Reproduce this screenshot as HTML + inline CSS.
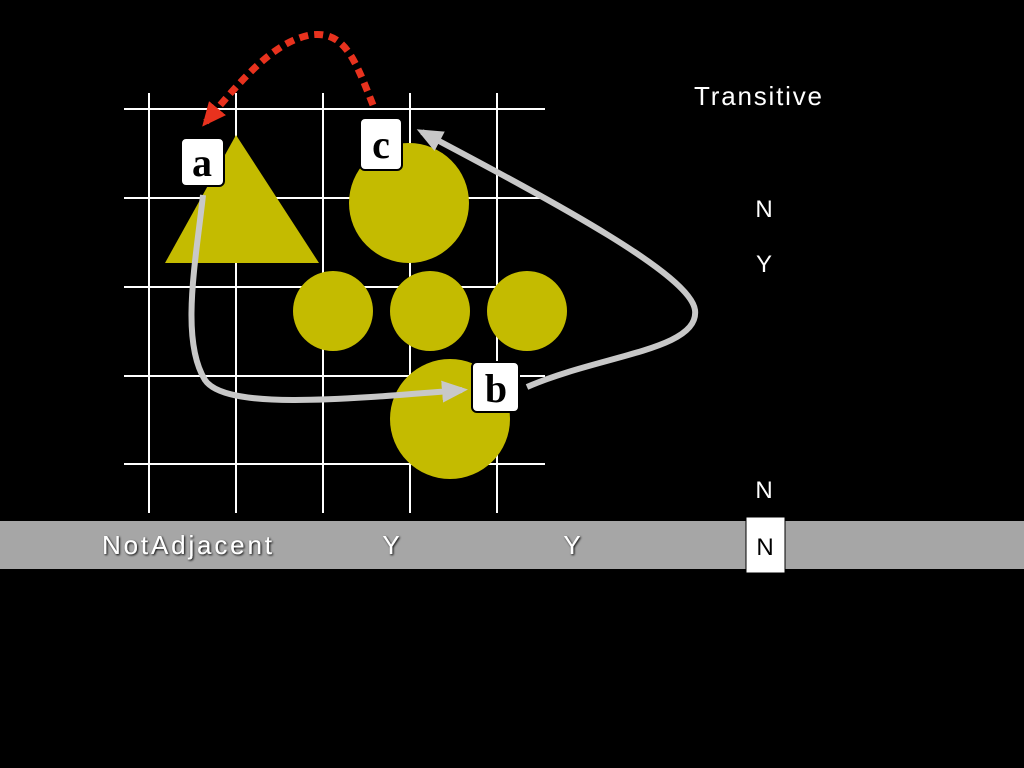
<!DOCTYPE html>
<html><head><meta charset="utf-8"><style>
html,body{margin:0;padding:0;background:#000;}
svg{display:block;}
.sans{font-family:"Liberation Sans",sans-serif;}
.serif{font-family:"Liberation Serif",serif;font-weight:bold;}
</style></head><body>
<svg width="1024" height="768" viewBox="0 0 1024 768">
<defs>
<marker id="ag" markerUnits="userSpaceOnUse" markerWidth="26" markerHeight="22" refX="20" refY="11" orient="auto"><path d="M0,0 L26,11 L0,22 z" fill="#c8c8c8"/></marker>
<marker id="ar" markerUnits="userSpaceOnUse" markerWidth="24" markerHeight="22" refX="18" refY="11" orient="auto"><path d="M0,0 L24,11 L0,22 z" fill="#e8321e"/></marker>
<filter id="sh"><feDropShadow dx="1" dy="1" stdDeviation="1" flood-color="#000"/></filter>
</defs>
<rect width="1024" height="768" fill="#000"/>
<g id="grid" stroke="#fff" stroke-width="2"></g>
<g fill="#c4bb00">
<polygon points="236,135 165,263 319,263"/>
<circle cx="409" cy="203" r="60"/>
<circle cx="333" cy="311" r="40"/>
<circle cx="430" cy="311" r="40"/>
<circle cx="527" cy="311" r="40"/>
<circle cx="450" cy="419" r="60"/>
</g>
<path d="M203,195 C196,260 180,340 205,380 C225,410 340,400 462,390" fill="none" stroke="#c8c8c8" stroke-width="6" marker-end="url(#ag)"/>
<path d="M527,387 C600,355 700,350 695,310 C690,275 560,205 422,132" fill="none" stroke="#c8c8c8" stroke-width="6" marker-end="url(#ag)"/>
<path d="M373,105 C355,60 345,30 310,35 C275,42 245,75 206,122" fill="none" stroke="#e8321e" stroke-width="7" stroke-dasharray="9,6" marker-end="url(#ar)"/>
<g><rect x="181" y="138" width="43" height="48" rx="5" fill="#fff" stroke="#000" stroke-width="2"/><text class="serif" x="202" y="176" font-size="40" text-anchor="middle">a</text></g>
<g><rect x="360" y="118" width="42" height="52" rx="5" fill="#fff" stroke="#000" stroke-width="2"/><text class="serif" x="381" y="158" font-size="40" text-anchor="middle">c</text></g>
<g><rect x="472" y="362" width="47" height="50" rx="5" fill="#fff" stroke="#000" stroke-width="2"/><text class="serif" x="496" y="402" font-size="40" text-anchor="middle">b</text></g>
<text class="sans" x="758" y="105" fill="#fff" font-size="26" textLength="128" text-anchor="middle">Transitive</text>
<text class="sans" x="764" y="217" fill="#fff" font-size="24" text-anchor="middle">N</text>
<text class="sans" x="764" y="272" fill="#fff" font-size="24" text-anchor="middle">Y</text>
<text class="sans" x="764" y="498" fill="#fff" font-size="24" text-anchor="middle">N</text>
<rect x="0" y="521" width="1024" height="48" fill="#a6a6a6"/>
<g class="sans" fill="#fff" font-size="26" filter="url(#sh)">
<text x="102" y="554" textLength="170">NotAdjacent</text>
<text x="391" y="554" text-anchor="middle">Y</text>
<text x="572" y="554" text-anchor="middle">Y</text>
</g>
<rect x="746" y="517" width="39" height="56" fill="#fff" stroke="#000" stroke-width="1"/>
<text class="sans" x="765" y="555" font-size="24" text-anchor="middle">N</text>
</svg>
<script>
const g=document.getElementById('grid');
const vx=[149,236,323,410,497], hy=[109,198,287,376,464];
vx.forEach(x=>{const l=document.createElementNS('http://www.w3.org/2000/svg','line');
l.setAttribute('x1',x);l.setAttribute('x2',x);l.setAttribute('y1',93);l.setAttribute('y2',513);


g.appendChild(l);});
hy.forEach(y=>{const l=document.createElementNS('http://www.w3.org/2000/svg','line');
l.setAttribute('x1',124);l.setAttribute('x2',545);l.setAttribute('y1',y);l.setAttribute('y2',y);


g.appendChild(l);});
</script>
</body></html>
